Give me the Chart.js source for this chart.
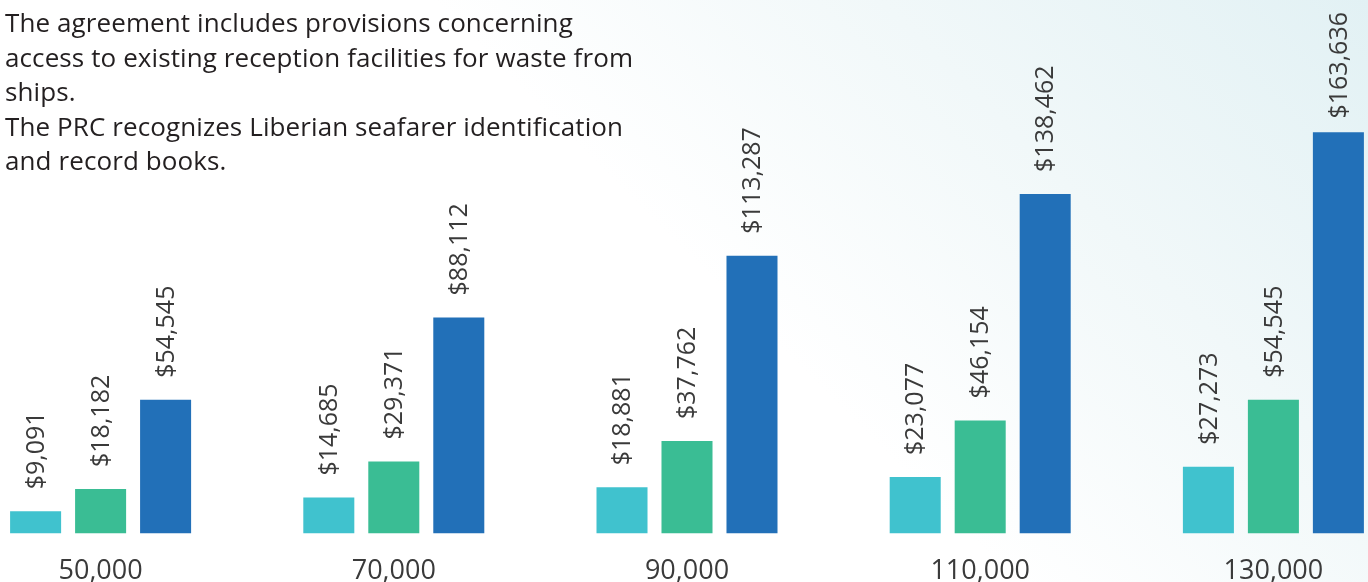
<!DOCTYPE html>
<html>
<head>
<meta charset="utf-8">
<script src="https://cdn.jsdelivr.net/npm/chart.js"></script>
<style>
  html, body {
    margin: 0;
    padding: 0;
    width: 1368px;
    height: 582px;
    overflow: hidden;
  }
  body {
    position: relative;
    background: linear-gradient(225deg, #e2f1f4 0%, #f1f8f9 25%, #ffffff 48%);
    font-family: "Open Sans", "Noto Sans", sans-serif;
  }
  #notes {
    position: absolute;
    left: 5px;
    top: 5px;
    font-size: 26px;
    letter-spacing: 0.1px;
    line-height: 34.5px;
    color: #231f20;
    z-index: 2;
  }
  #chart {
    position: absolute;
    left: -46px;
    top: 0;
  }
</style>
</head>
<body>
<div id="notes">
  The agreement includes provisions concerning<br>
  access to existing reception facilities for waste from<br>
  ships.<br>
  The PRC recognizes Liberian seafarer identification<br>
  and record books.
</div>
<canvas id="chart" width="1466" height="614"></canvas>
<script>
const categories = ['50,000', '70,000', '90,000', '110,000', '130,000'];
const lowSeries = [9091, 14685, 18881, 23077, 27273];
const midSeries = [18182, 29371, 37762, 46154, 54545];
const highSeries = [54545, 88112, 113287, 138462, 163636];

const seriesColors = ['#40c2ce', '#3abd94', '#2270b8'];
const labelGap = 22; // space between bar top and rotated value label
const labelTopLimit = 12;

// rotated dollar labels above each bar
const valueLabels = {
    id: 'valueLabels',
    afterDatasetsDraw(chart) {
        const ctx = chart.ctx;
        ctx.save();
        ctx.font = '25px "Open Sans", "Noto Sans", sans-serif';
        ctx.fillStyle = '#3a3a3a';
        chart.data.datasets.forEach((ds, i) => {
            const meta = chart.getDatasetMeta(i);
            meta.data.forEach((bar, j) => {
                const text = '$' + ds.data[j].toLocaleString('en-US');
                const w = ctx.measureText(text).width;
                let y = bar.y - labelGap;
                if (y - w < labelTopLimit) y = labelTopLimit + w;
                ctx.save();
                ctx.translate(bar.x + 1, y);
                ctx.rotate(-Math.PI / 2);
                ctx.textAlign = 'left';
                ctx.textBaseline = 'middle';
                ctx.fillText(text, 0, 0);
                ctx.restore();
            });
        });
        ctx.restore();
    }
};

new Chart(document.getElementById('chart'), {
    type: 'bar',
    data: {
        labels: categories,
        datasets: [
            { data: lowSeries, backgroundColor: seriesColors[0] },
            { data: midSeries, backgroundColor: seriesColors[1] },
            { data: highSeries, backgroundColor: seriesColors[2] },
        ],
    },
    options: {
        responsive: false,
        animation: false,
        categoryPercentage: 0.665,
        barPercentage: 0.785,
        layout: { padding: { top: 43, bottom: 4, left: 0, right: 0 } },
        plugins: {
            legend: { display: false },
            tooltip: { enabled: false },
        },
        scales: {
            x: {
                grid: { display: false, drawTicks: false },
                border: { display: false },
                ticks: {
                    color: '#3a3a3a',
                    padding: 22,
                    font: { family: '"Open Sans", "Noto Sans", sans-serif', size: 27 },
                },
            },
            y: {
                display: false,
                min: 0,
                max: 200000,
            },
        },
    },
    plugins: [valueLabels],
});
</script>
</body>
</html>
